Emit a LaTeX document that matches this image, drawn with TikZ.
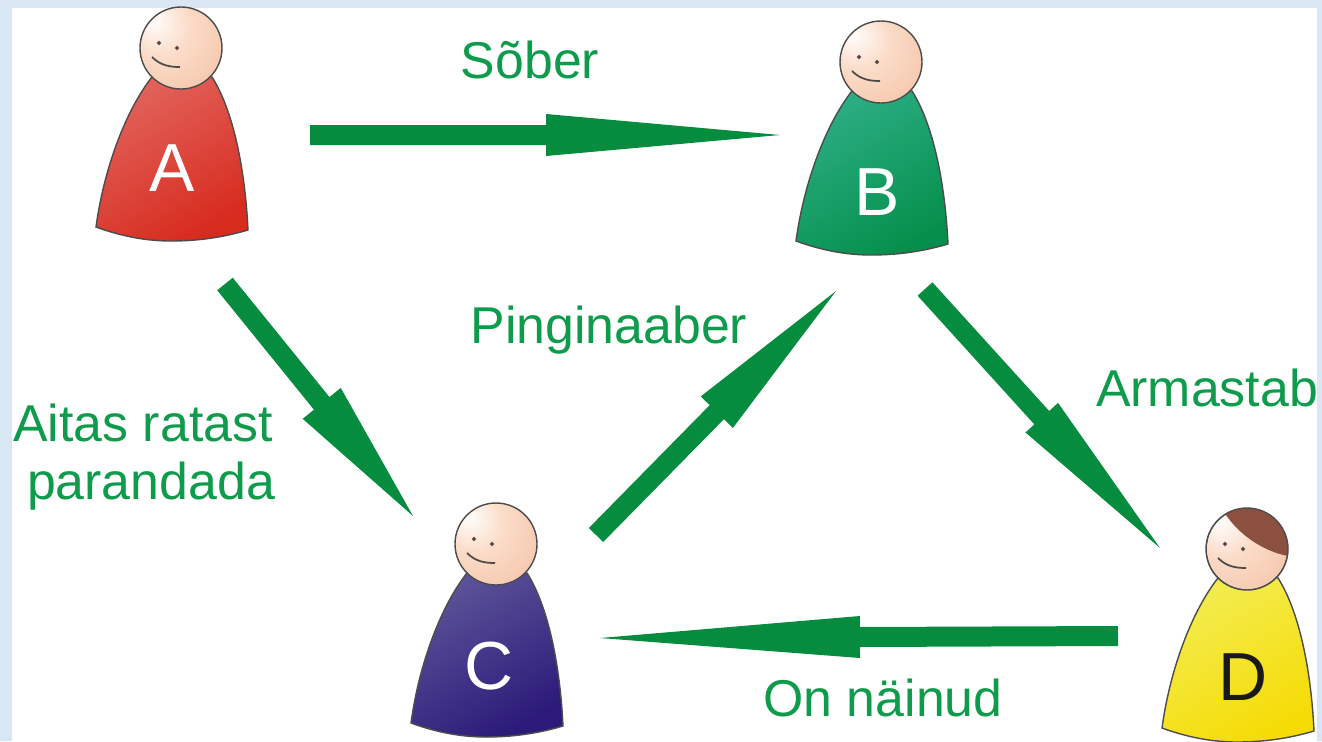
\documentclass[tikz,border=0pt]{standalone}
\usepackage{fontspec}
\setmainfont{Liberation Sans}
\usetikzlibrary{calc}
\definecolor{skyblue}{HTML}{D9E7F5}
\definecolor{arrowgreen}{HTML}{068C3E}
\definecolor{textgreen}{HTML}{0E9C4C}
\definecolor{hairbrown}{HTML}{8B5040}
\definecolor{skinmid}{HTML}{FBDCC8}
\definecolor{skindark}{HTML}{EFAE8C}
\definecolor{redtop}{HTML}{E2635B}
\definecolor{redbot}{HTML}{D72B1E}
\definecolor{greentop}{HTML}{2BAE84}
\definecolor{greenbot}{HTML}{068F4C}
\definecolor{bluetop}{HTML}{5C5398}
\definecolor{bluebot}{HTML}{2B1A79}
\definecolor{yellowtop}{HTML}{F3EC50}
\definecolor{yellowbot}{HTML}{F5DC06}
\pgfdeclareradialshading{skinball}{\pgfpoint{-18bp}{18bp}}{color(0bp)=(white);color(18bp)=(skinmid);color(62bp)=(skindark)}
\tikzset{
  relation/.style={text=textgreen,font=\fontsize{29.5}{32.9}\selectfont,anchor=base,inner sep=0pt},
  letter/.style={font=\fontsize{38.7}{40}\selectfont,inner sep=0pt},
  outline/.style={draw=black!70!white,line width=0.8pt},
  eye/.style={draw=black!60!white,fill=red!60!black,line width=0.5pt}
}
% body and head of one figure, (#1,#2) is the centre of the head
\newcommand{\person}[4]{
\begin{scope}[shift={(#1,#2)}]
\draw[outline,top color=#3,bottom color=#4,shading angle=30] (-29,29)
    .. controls (-55,62) and (-77,120) .. (-85,179)
    .. controls (-55,190) and (-30,193) .. (-10,193)
    .. controls (15,193) and (40,190) .. (67,182)
    .. controls (64,120) and (52,62) .. (31,29) -- cycle;
\draw[outline,shading=skinball] (0,0) circle (41);
\draw[eye] (-22,-5) circle (1.8) (-4,0) circle (1.8);
\draw[black!70!white,line width=1pt] (-29,9) .. controls (-20,18) and (-10,19) .. (-1,19);
\end{scope}
}
% fat arrow from #1 to #2, #3 head length, #4 half width of the head
\newcommand{\fatarrow}[4]{
\coordinate (base) at ($(#2)!#3!(#1)$);
\fill[arrowgreen] ($(#1)!0.2cm!90:(#2)$) -- ($(base)!0.2cm!90:(#2)$) -- ($(base)!#4!90:(#2)$)
    -- (#2) -- ($(base)!#4!-90:(#2)$) -- ($(base)!0.2cm!-90:(#2)$) -- ($(#1)!0.2cm!-90:(#2)$) -- cycle;
}
\begin{document}
\begin{tikzpicture}[x=0.02cm,y=-0.02cm]
\useasboundingbox (0,0) rectangle (1322,741);
\fill[skyblue] (0,0) rectangle (1322,741);
\fill[white] (12,8) rectangle (1317,741);
%----------the figures---------------------------
\person{181}{48}{redtop}{redbot}
\person{881}{62}{greentop}{greenbot}
\person{496}{544}{bluetop}{bluebot}
\person{1247}{549}{yellowtop}{yellowbot}
%----------hair of D-----------------------------
\begin{scope}[shift={(1247,549)}]
\clip (0,0) circle (41);
\fill[hairbrown] (-21,-34) .. controls (-8,-15) and (15,2) .. (41,7) -- (50,-50) -- (-21,-50) -- cycle;
\draw[outline] (0,0) circle (41);
\end{scope}
%----------letters-------------------------------
\node[letter,text=white] (A) at (172,168) {A};
\node[letter,text=white] (B) at (877,192) {B};
\node[letter,text=white] (C) at (489,666) {C};
\node[letter,text=black!90!white] (D) at (1243,677) {D};
%----------arrows--------------------------------
\coordinate (ABs) at (310,135);
\coordinate (ABe) at (780,135);
\coordinate (ACs) at (225,284);
\coordinate (ACe) at (413,516);
\coordinate (CBs) at (596,535);
\coordinate (CBe) at (836,291);
\coordinate (BDs) at (925,289);
\coordinate (BDe) at (1160,548);
\coordinate (DCs) at (1118,636);
\coordinate (DCe) at (600,638);
\fatarrow{ABs}{ABe}{4.68cm}{0.42cm}
\fatarrow{ACs}{ACe}{2.9cm}{0.49cm}
\fatarrow{CBs}{CBe}{3.4cm}{0.45cm}
\fatarrow{BDs}{BDe}{3.52cm}{0.44cm}
\fatarrow{DCs}{DCe}{5.2cm}{0.42cm}
%----------text----------------------------------
\node[relation] (sober) at (530,78) {Sõber};
\node[relation] (pingi) at (609,343) {Pinginaaber};
\node[relation] (armastab) at (1207,406) {Armastab};
\node[relation] (aitas) at (143,441) {Aitas ratast};
\node[relation] (parandada) at (151,499) {parandada};
\node[relation] (nainud) at (883,716) {On näinud};
\end{tikzpicture}
\end{document}
